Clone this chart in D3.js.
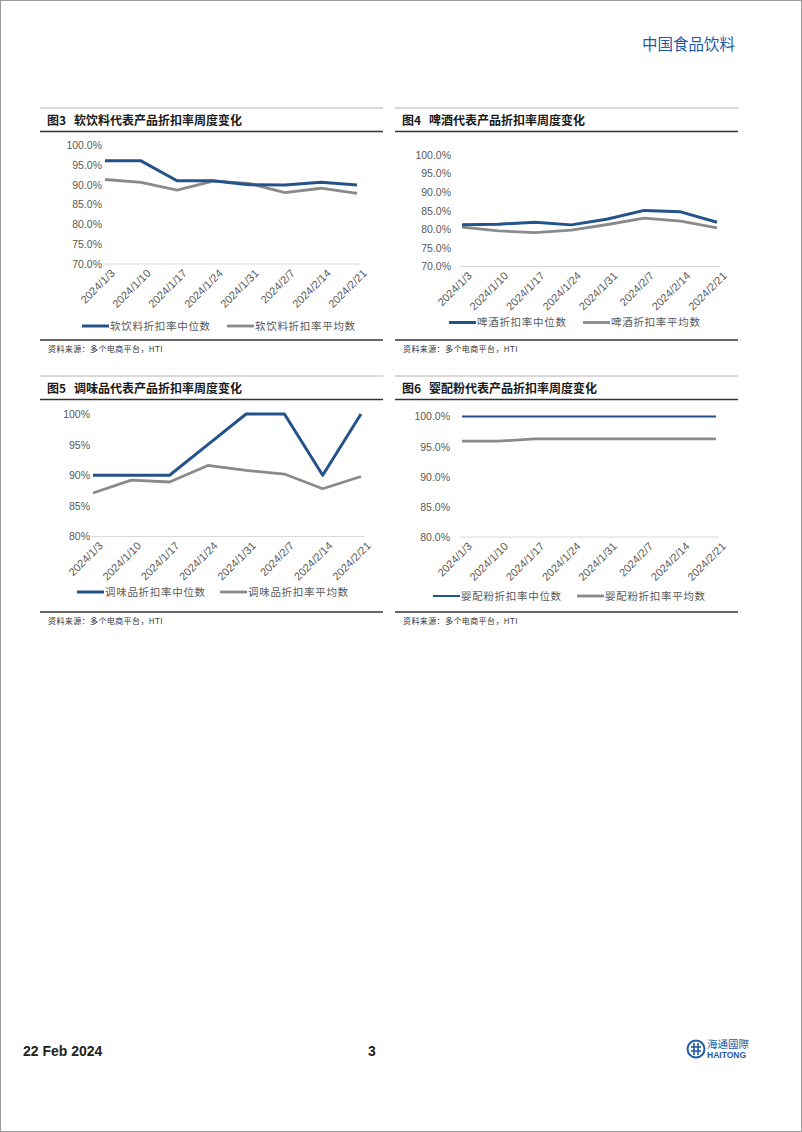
<!DOCTYPE html>
<html><head><meta charset="utf-8">
<script src="https://cdn.jsdelivr.net/npm/d3@7"></script>
<style>
html,body{margin:0;padding:0;background:#fff;}
svg{display:block;}
text{font-family:"Liberation Sans","Noto Sans CJK SC",sans-serif;}
.cjk{font-family:"Noto Sans CJK SC","Liberation Sans",sans-serif;}
</style></head>
<body>
<svg id="page" width="802" height="1132"></svg>
<script>
// ---------- data ----------
const dates = ["2024/1/3","2024/1/10","2024/1/17","2024/1/24","2024/1/31","2024/2/7","2024/2/14","2024/2/21"];

const softMedian = [0.960, 0.960, 0.910, 0.910, 0.900, 0.899, 0.906, 0.899];
const softMean   = [0.913, 0.906, 0.886, 0.909, 0.903, 0.880, 0.891, 0.878];

const beerMedian = [0.812, 0.814, 0.819, 0.812, 0.828, 0.851, 0.847, 0.819];
const beerMean   = [0.806, 0.796, 0.791, 0.798, 0.813, 0.830, 0.822, 0.804];

const seasonMedian = [0.900, 0.900, 0.900, 0.950, 1.000, 1.000, 0.900, 1.000];
const seasonMean   = [0.871, 0.892, 0.889, 0.916, 0.908, 0.902, 0.878, 0.898];

const formulaMedian = [1.000, 1.000, 1.000, 1.000, 1.000, 1.000, 1.000, 1.000];
const formulaMean   = [0.959, 0.959, 0.963, 0.963, 0.963, 0.963, 0.963, 0.963];

const ticks1 = [0.70, 0.75, 0.80, 0.85, 0.90, 0.95, 1.00];
const ticks2 = [0.80, 0.85, 0.90, 0.95, 1.00];

const titles = ["软饮料代表产品折扣率周度变化","啤酒代表产品折扣率周度变化","调味品代表产品折扣率周度变化","婴配粉代表产品折扣率周度变化"];
const figNums = ["图3","图4","图5","图6"];
const legendMedian = ["软饮料折扣率中位数","啤酒折扣率中位数","调味品折扣率中位数","婴配粉折扣率中位数"];
const legendMean = ["软饮料折扣率平均数","啤酒折扣率平均数","调味品折扣率平均数","婴配粉折扣率平均数"];
const sourceText = "资料来源：多个电商平台，HTI";

// ---------- drawing ----------
const BLUE = "#24528a", GRAY = "#8a8a8a";
const svg = d3.select("#page");

svg.append("rect").attr("x",0.5).attr("y",0.5).attr("width",801).attr("height",1131)
  .attr("fill","none").attr("stroke","#9a9a9a").attr("stroke-width",1);

svg.append("text").attr("class","cjk").attr("x",735).attr("y",50).attr("text-anchor","end")
  .attr("font-size",15.5).attr("fill","#1f5aa6").text("中国食品饮料");

function panel(cfg){
  const g = svg.append("g");
  g.append("line").attr("x1",cfg.x0).attr("x2",cfg.x1).attr("y1",cfg.top).attr("y2",cfg.top)
    .attr("stroke","#a0a0a0").attr("stroke-width",0.8);
  const t = g.append("text").attr("x",cfg.x0+7).attr("y",cfg.top+17)
    .attr("font-size",12).attr("font-weight","bold").attr("fill","#1a1a1a").attr("class","cjk");
  t.append("tspan").text(cfg.fig);
  t.append("tspan").attr("dx",8).text(cfg.title);
  g.append("line").attr("x1",cfg.x0).attr("x2",cfg.x1).attr("y1",cfg.top+23.5).attr("y2",cfg.top+23.5)
    .attr("stroke","#333").attr("stroke-width",1.3);

  const x = d3.scalePoint().domain(dates).range([cfg.px0,cfg.px1]);
  const y = d3.scaleLinear().domain(cfg.domain).range([cfg.py0,cfg.py1]);

  g.append("line").attr("x1",cfg.px0-2).attr("x2",cfg.px1+3).attr("y1",y(cfg.domain[0])).attr("y2",y(cfg.domain[0]))
    .attr("stroke","#d9d9d9").attr("stroke-width",1);

  const yAxis = d3.axisLeft(y).tickValues(cfg.ticks).tickSize(0).tickPadding(0).tickFormat(cfg.fmt);
  const ya = g.append("g").attr("transform",`translate(${cfg.labelX},0)`).call(yAxis);
  ya.select(".domain").remove();
  ya.selectAll("text").attr("font-size",10.5).attr("fill","#595959")
    .attr("font-family","Liberation Sans, sans-serif");

  const xAxis = d3.axisBottom(x).tickSize(0).tickPadding(0);
  const xa = g.append("g").attr("transform",`translate(0,${y(cfg.domain[0])})`).call(xAxis);
  xa.select(".domain").remove();
  xa.selectAll("text").attr("font-size",11).attr("fill","#595959")
    .attr("font-family","Liberation Sans, sans-serif")
    .attr("text-anchor","end").attr("dy",null).attr("y",null)
    .attr("transform","translate(10,10) rotate(-45)");

  const line = d3.line().x((d,i)=>x(dates[i])).y(d=>y(d));
  g.append("path").datum(cfg.mean).attr("d",line).attr("fill","none")
    .attr("stroke",GRAY).attr("stroke-width",2.8).attr("stroke-linejoin","round");
  g.append("path").datum(cfg.median).attr("d",line).attr("fill","none")
    .attr("stroke",BLUE).attr("stroke-width",cfg.blueW).attr("stroke-linejoin","round");

  const lg = g.append("g").attr("transform",`translate(0,${cfg.legY})`);
  lg.append("line").attr("x1",cfg.leg1).attr("x2",cfg.leg1+27).attr("stroke",BLUE).attr("stroke-width",cfg.blueW);
  lg.append("text").attr("class","cjk").attr("x",cfg.leg1+28).attr("dy","0.35em")
    .attr("font-size",10.5).attr("fill","#595959").attr("letter-spacing",0.7).text(cfg.lm);
  lg.append("line").attr("x1",cfg.leg2).attr("x2",cfg.leg2+27).attr("stroke",GRAY).attr("stroke-width",2.8);
  lg.append("text").attr("class","cjk").attr("x",cfg.leg2+28).attr("dy","0.35em")
    .attr("font-size",10.5).attr("fill","#595959").attr("letter-spacing",0.7).text(cfg.la);

  g.append("line").attr("x1",cfg.x0).attr("x2",cfg.x1).attr("y1",cfg.bot).attr("y2",cfg.bot)
    .attr("stroke","#333").attr("stroke-width",1.3);
  g.append("text").attr("class","cjk").attr("x",cfg.x0+8).attr("y",cfg.bot+12)
    .attr("font-size",8).attr("fill","#333").attr("letter-spacing",0.4).text(sourceText);
}

const pct1 = d3.format(".1%"), pct0 = d3.format(".0%");

panel({x0:40,x1:383,top:108,fig:figNums[0],title:titles[0],px0:105,px1:357,py0:264,py1:145,
  domain:[0.70,1.00],ticks:ticks1,fmt:pct1,labelX:102,median:softMedian,mean:softMean,blueW:3,
  legY:326,leg1:82,leg2:227,lm:legendMedian[0],la:legendMean[0],bot:340});
panel({x0:395,x1:738,top:108,fig:figNums[1],title:titles[1],px0:462,px1:717,py0:266.5,py1:155,
  domain:[0.70,1.00],ticks:ticks1,fmt:pct1,labelX:451,median:beerMedian,mean:beerMean,blueW:3,
  legY:322.5,leg1:449,leg2:583,lm:legendMedian[1],la:legendMean[1],bot:340});
panel({x0:40,x1:383,top:376,fig:figNums[2],title:titles[2],px0:93,px1:361,py0:536.5,py1:414,
  domain:[0.80,1.00],ticks:ticks2,fmt:pct0,labelX:90,median:seasonMedian,mean:seasonMean,blueW:3,
  legY:592,leg1:77,leg2:220,lm:legendMedian[2],la:legendMean[2],bot:612});
panel({x0:395,x1:738,top:376,fig:figNums[3],title:titles[3],px0:462,px1:716,py0:537,py1:416.5,
  domain:[0.80,1.00],ticks:ticks2,fmt:pct1,labelX:450,median:formulaMedian,mean:formulaMean,blueW:2,
  legY:596,leg1:433,leg2:577,lm:legendMedian[3],la:legendMean[3],bot:612});

// footer
svg.append("text").attr("x",23).attr("y",1056).attr("font-size",14).attr("font-weight","bold")
  .attr("fill","#222").attr("font-family","Liberation Sans, sans-serif").text("22 Feb 2024");
svg.append("text").attr("x",368).attr("y",1056).attr("font-size",14).attr("font-weight","bold")
  .attr("fill","#222").attr("font-family","Liberation Sans, sans-serif").text("3");
const logo = svg.append("g").attr("transform","translate(696,1049)");
logo.append("circle").attr("r",8.5).attr("fill","none").attr("stroke","#1f5aa6").attr("stroke-width",2);
logo.append("line").attr("x1",-5).attr("x2",5).attr("y1",-2).attr("y2",-2).attr("stroke","#1f5aa6").attr("stroke-width",1.6);
logo.append("line").attr("x1",-5).attr("x2",5).attr("y1",2).attr("y2",2).attr("stroke","#1f5aa6").attr("stroke-width",1.6);
logo.append("line").attr("x1",-2).attr("x2",-2).attr("y1",-6).attr("y2",6).attr("stroke","#1f5aa6").attr("stroke-width",1.6);
logo.append("line").attr("x1",2).attr("x2",2).attr("y1",-6).attr("y2",6).attr("stroke","#1f5aa6").attr("stroke-width",1.6);
svg.append("text").attr("class","cjk").attr("x",707).attr("y",1048).attr("font-size",10.5).attr("fill","#1f5aa6").text("海通國際");
svg.append("text").attr("x",707).attr("y",1058).attr("font-size",8.5).attr("font-weight","bold")
  .attr("fill","#1f5aa6").attr("font-family","Liberation Sans, sans-serif").text("HAITONG");
</script>
</body></html>
